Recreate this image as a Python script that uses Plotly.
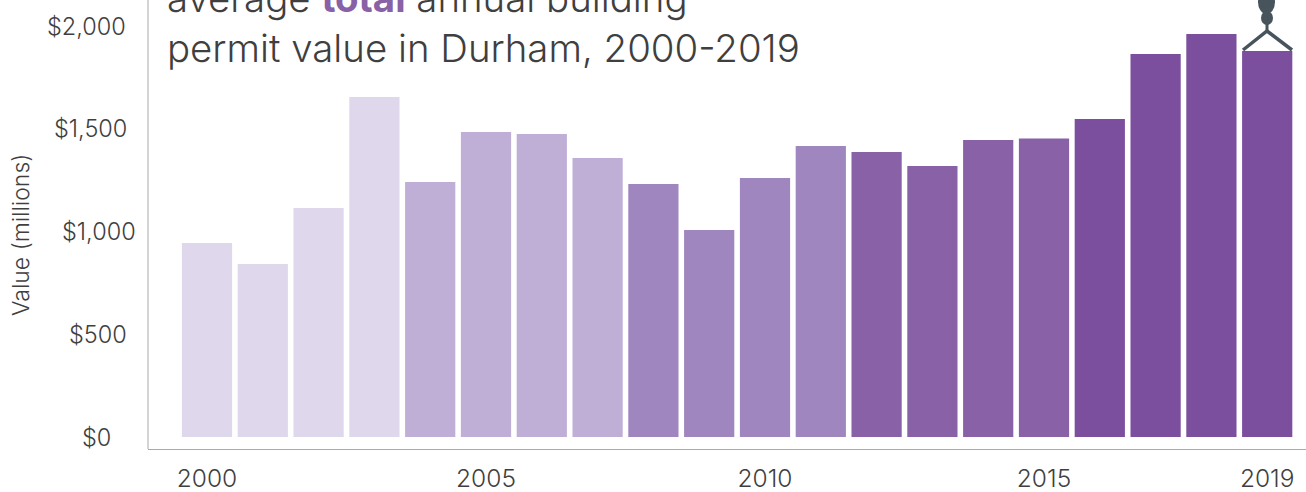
import plotly.graph_objects as go

years = list(range(2000, 2020))
values = [944, 842, 1114, 1654, 1241, 1484, 1474, 1358, 1231, 1007,
          1260, 1416, 1387, 1319, 1445, 1452, 1547, 1864, 1961, 1878]
colors = ["#dfd8ec"] * 4 + ["#bfafd6"] * 4 + ["#a086be"] * 4 + ["#8861a6"] * 4 + ["#7b4f9d"] * 4
xtick_vals = [2000, 2005, 2010, 2015, 2019]
ytick_vals = [0, 500, 1000, 1500, 2000]
ytick_text = ["$0", "$500", "$1,000", "$1,500", "$2,000"]
ytick_right = [113, 129, 138, 129, 128]

W, H = 1306, 492
L, B = 148, 449
FONT = "Inter"
TXT = "#3f3f3f"

def px(x): return (x - L) / (W - L)
def py(y): return 1 - y / B

fig = go.Figure(go.Bar(x=years, y=values, marker=dict(color=colors, line_width=0), width=0.9))

ann = []
for v, t, r in zip(ytick_vals, ytick_text, ytick_right):
    ann.append(dict(x=px(r), xref="paper", y=v, yref="y", text=t, showarrow=False,
                    xanchor="right", yanchor="middle", font=dict(family=FONT, size=23.5, weight=300, color=TXT)))
ann.append(dict(x=px(21), xref="paper", y=py(235), yref="paper", text="Value (millions)", textangle=-90,
                xanchor="center", yanchor="middle",
                showarrow=False, font=dict(family=FONT, size=23, weight=300, color=TXT)))
ann.append(dict(x=px(165), xref="paper", y=py(-27), yref="paper", xanchor="left", yanchor="top",
                text='average <b><span style="color:#8861a6">total</span></b> annual building',
                showarrow=False, font=dict(family=FONT, size=38.4, weight=300, color=TXT)))
ann.append(dict(x=px(165), xref="paper", y=py(23), yref="paper", xanchor="left", yanchor="top",
                text="permit value in Durham, 2000-2019",
                showarrow=False, font=dict(family=FONT, size=38.4, weight=300, color=TXT)))

HOOK = "#47545c"
shapes = [
    dict(type="line", xref="paper", yref="paper", x0=px(148), x1=px(148), y0=py(0), y1=py(449),
         line=dict(color="#aaaaaa", width=1)),
    dict(type="path", xref="paper", yref="paper",
         path=f"M {px(1243)} {py(50)} L {px(1267)} {py(31)} L {px(1292)} {py(50)}",
         line=dict(color=HOOK, width=3.5)),
    dict(type="line", xref="paper", yref="paper", x0=px(1267), x1=px(1267), y0=py(0), y1=py(31),
         line=dict(color=HOOK, width=3)),
    dict(type="circle", xref="paper", yref="paper", x0=px(1258), x1=px(1275), y0=py(-10), y1=py(14),
         fillcolor=HOOK, line_width=0),
    dict(type="circle", xref="paper", yref="paper", x0=px(1261), x1=px(1273), y0=py(11), y1=py(25),
         fillcolor=HOOK, line_width=0),
]

fig.update_layout(
    width=W, height=H, margin=dict(l=L, r=0, t=0, b=H - B),
    paper_bgcolor="white", plot_bgcolor="white", showlegend=False,
    annotations=ann, shapes=shapes,
    xaxis=dict(range=[2000 - 59 / 55.8, 2000 + (W - 207) / 55.8], tickvals=xtick_vals, automargin=False,
               tickfont=dict(family=FONT, size=24.5, weight=300, color=TXT), showgrid=False, zeroline=False,
               showline=True, linecolor="#aaaaaa", linewidth=1, ticks="outside", ticklen=8,
               tickcolor="rgba(0,0,0,0)"),
    yaxis=dict(range=[-58.4, 2126.5], showticklabels=False, showgrid=False, zeroline=False,
               tickvals=ytick_vals, showline=False, automargin=False),
)
fig.write_html("out.html", config=dict(displayModeBar=False),
               post_script="document.body.style.margin='0';document.documentElement.style.overflow='hidden';window.dispatchEvent(new Event('resize'));")
